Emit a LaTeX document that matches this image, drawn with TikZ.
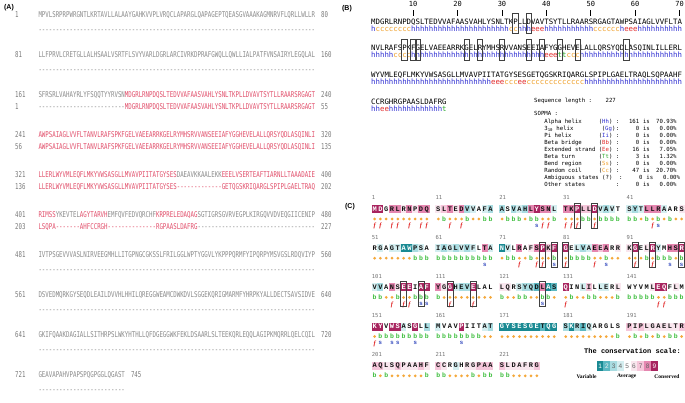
\documentclass[tikz,border=0pt]{standalone}
\usepackage{fontspec}
\newfontfamily\monof{DejaVu Sans Mono}
\newfontfamily\monoA[FakeStretch=0.718]{DejaVu Sans Mono}
\newfontfamily\resf{Liberation Mono}
\newfontfamily\labf{Liberation Sans}
\newfontfamily\serf{Liberation Serif}
\definecolor{agray}{HTML}{8C8C8C}
\definecolor{anumc}{HTML}{7A7A7A}
\definecolor{ared}{HTML}{E2506C}
\definecolor{ssh}{HTML}{2E2ED2}
\definecolor{ssc}{HTML}{F0A02A}
\definecolor{sse}{HTML}{E22A2A}
\definecolor{sst}{HTML}{2AA82A}
\definecolor{cs1}{HTML}{1A8A93}
\definecolor{cs2}{HTML}{5DB8C2}
\definecolor{cs3}{HTML}{A9DCE1}
\definecolor{cs4}{HTML}{D4EEF0}
\definecolor{cs5}{HTML}{FFFFFF}
\definecolor{cs6}{HTML}{F9E6EE}
\definecolor{cs7}{HTML}{F5C6DA}
\definecolor{cs8}{HTML}{E587B0}
\definecolor{cs9}{HTML}{A8245F}
\definecolor{ct1}{HTML}{FFFFFF}
\definecolor{ct2}{HTML}{111111}
\definecolor{ct3}{HTML}{111111}
\definecolor{ct4}{HTML}{111111}
\definecolor{ct5}{HTML}{111111}
\definecolor{ct6}{HTML}{111111}
\definecolor{ct7}{HTML}{111111}
\definecolor{ct8}{HTML}{111111}
\definecolor{ct9}{HTML}{FFFFFF}
\definecolor{sct1}{HTML}{FFFFFF}
\definecolor{sct2}{HTML}{F0F0F0}
\definecolor{sct3}{HTML}{666666}
\definecolor{sct4}{HTML}{666666}
\definecolor{sct5}{HTML}{666666}
\definecolor{sct6}{HTML}{666666}
\definecolor{sct7}{HTML}{666666}
\definecolor{sct8}{HTML}{666666}
\definecolor{sct9}{HTML}{FFFFFF}
\definecolor{dotor}{HTML}{F5A83A}
\definecolor{bgreen}{HTML}{3DBE3D}
\definecolor{fred}{HTML}{E02020}
\definecolor{sblue}{HTML}{3A4FC0}
\ExplSyntaxOn
\NewDocumentCommand\rp{mm}{\prg_replicate:nn{#1}{#2}}
\str_const:Nn \c_rs_seq_str {
MDGRLRNPDQ SLTEDVVAFA ASVAHLYSNL TKPLLDVAVT SYTLLRAARS
RGAGTAWPSA IAGLVVFLTA NVLRAFSPKF GELVAEEARR KGELRYMHSR
VVANSEEIAF YGGHEVELAL LQRSYQDLAS QINLILLERL WYVMLEQFLM
KYVWSASGLL MVAVPIITAT GYSESGETQG SKRIQARGLS PIPLGAELTR
AQLSQPAAHF CCRGHRGPAA SLDAFRG}
\str_const:Nn \c_rs_sc_str {
9958868688 6786834543 3534389884 8897794345 4348884556
5454411345 4343434584 1458568979 9543487856 6956945889
4358699599 8694339555 6654332812 9554754456 5555699565
9959945953 4555955543 1111111211 3132455555 7676666667
7766766676 7654566777 7666667}
\str_const:Nn \c_rs_dot_str {
eeeeeeeeee ebeeebeebb ebbbebbeeb eeebbebbbb bbebebebee
eeeeeeebbb bbbbbbbbbb ebbeebeeeb ebbbbeebee eeebebbbeb
bbeebeebbb beeeeeeeee beebbeebbe ebeebbeeeb bbbbbeebbb
ebbbbbbbbb bbbbbbbbee eeeeeeeeee eeeeeeeeeb ebebebebbe
bebeeeeeeb bbeeeebebb bbeeeee}
\str_const:Nn \c_rs_fs_str {
ff-ff-f-ff --f-f----- ------sff- fff--f---- ----fs----
---------- --------s- ---f--ff-s f----f-s-- -f--f--s-s
---f-ff-ss --f---f--- -------s-- f--------- -----ff---
fs-ss--s-- ----s-----}
\cs_new:Npn \rsgetA #1 {\str_item:Nn \c_rs_seq_str {#1}}
\cs_new:Npn \rsgetS #1 {\str_item:Nn \c_rs_sc_str {#1}}
\cs_new:Npn \rsgetD #1 {\str_item:Nn \c_rs_dot_str {#1}}
\cs_new:Npn \rsgetF #1 {\str_item:Nn \c_rs_fs_str {#1}}
\ExplSyntaxOff
\newcommand\crd[1]{\textcolor{ared}{#1}}
\newcommand\ssH[1]{\textcolor{ssh}{\rp{#1}{h}}}
\newcommand\ssC[1]{\textcolor{ssc}{\rp{#1}{c}}}
\newcommand\ssE[1]{\textcolor{sse}{\rp{#1}{e}}}
\newcommand\ssT[1]{\textcolor{sst}{\rp{#1}{t}}}
\newcommand\dsh[1]{\rp{#1}{-{}}}
\newcommand\stline[6]{%
  \node[st] (stn#1) at (544.2,#2) {#3};
  \node[st] (stc#1) at (598.6,#2) {#4};
  \node[st] (stk#1) at (615.6,#2) {:};
  \node[ster] (stv#1) at (639.4,#2) {#5};
  \node[st] (sti#1) at (642.8,#2) {is};
  \node[ster] (stp#1) at (676.8,#2) {#6};
}
\tikzset{
  aseq/.style={anchor=base west, inner sep=0pt, text=agray, font=\monoA\fontsize{8}{9}\selectfont},
  anum/.style={aseq, text=anumc},
  bseq/.style={anchor=base west, inner sep=0pt, font=\monof\fontsize{7.375}{8}\selectfont},
  bnum/.style={anchor=base, inner sep=0pt, font=\monof\fontsize{7}{8}\selectfont},
  st/.style={anchor=base west, inner sep=0pt, font=\monof\fontsize{5.65}{6}\selectfont},
  ster/.style={st, anchor=base east},
  hlb/.style={draw=black!75, line width=0.45pt, inner sep=0pt, minimum width=5.4pt, minimum height=20.5pt},
  hlc/.style={draw=black!75, line width=0.45pt, inner sep=0pt, minimum width=6pt, minimum height=25pt},
  resbox/.style={inner sep=0pt, minimum width=5.85pt, minimum height=8pt, text height=4.1pt, text depth=0pt, font=\resf\bfseries\fontsize{7}{8}\selectfont},
  edot/.style={circle, fill=dotor, inner sep=0pt, minimum size=3pt},
  bmark/.style={inner sep=0pt, text=bgreen, text height=4.3pt, text depth=0pt, font=\resf\bfseries\fontsize{6.5}{7}\selectfont},
  fmark/.style={inner sep=0pt, text=fred, text height=4.5pt, text depth=0pt, font=\serf\bfseries\itshape\fontsize{6.5}{7}\selectfont},
  smark/.style={inner sep=0pt, text=sblue, text height=3.2pt, text depth=0pt, font=\labf\bfseries\fontsize{6}{7}\selectfont},
  clab/.style={anchor=base west, inner sep=0pt, text=black!55, font=\monof\fontsize{5.5}{6}\selectfont},
  plab/.style={inner sep=0pt, font=\labf\bfseries\fontsize{7}{8}\selectfont},
  sclbox/.style={inner sep=0pt, minimum width=6.78pt, minimum height=9.7pt, font=\labf\fontsize{6.5}{7}\selectfont},
  scllab/.style={inner sep=0pt, font=\serf\bfseries\fontsize{5.5}{6}\selectfont},
}
\begin{document}
\begin{tikzpicture}[x=1pt,y=-1pt]
\useasboundingbox (0,0) rectangle (685,403);
\fill[white] (0,0) rectangle (685,403);
% ---------------- Panel A ----------------
\node[plab] (labA) at (9,8) {(A)};
% row 0
\node[anum] (an0) at (15,17.9) {1};
\node[aseq] (as0) at (38.3,17.9) {MPVLSRPRPWRGNTLKRTAVLLALAAYGAHKVVPLVRQCLAPARGLQAPAGEPTQEASGVAAAKAGMNRVFLQRLLWLLR};
\node[anum] (ae0) at (321,17.9) {80};
\node[aseq] (ad0) at (38.3,32.4) {\dsh{80}};
% row 1
\node[anum] (an1) at (15,57.9) {81};
\node[aseq] (as1) at (38.3,57.9) {LLFPRVLCRETGLLALHSAALVSRTFLSVYVARLDGRLARCIVRKDPRAFGWQLLQWLLIALPATFVNSAIRYLEGQLAL};
\node[anum] (ae1) at (321,57.9) {160};
\node[aseq] (ad1) at (38.3,72.4) {\dsh{80}};
% row 2
\node[anum] (an2) at (15,97.9) {161};
\node[aseq] (as2) at (38.3,97.9) {SFRSRLVAHAYRLYFSQQTYYRVSN\crd{MDGRLRNPDQSLTEDVVAFAASVAHLYSNLTKPLLDVAVTSYTLLRAARSRGAGT}};
\node[anum] (ae2) at (321,97.9) {240};
\node[anum] (bn2) at (15,109.9) {1};
\node[aseq] (bs2) at (38.3,109.9) {\dsh{25}\crd{MDGRLRNPDQSLTEDVVAFAASVAHLYSNLTKPLLDVAVTSYTLLRAARSRGAGT}};
\node[anum] (be2) at (321,109.9) {55};
% row 3
\node[anum] (an3) at (15,137.9) {241};
\node[aseq] (as3) at (38.3,137.9) {\crd{AWPSAIAGLVVFLTANVLRAFSPKFGELVAEEARRKGELRYMHSRVVANSEEIAFYGGHEVELALLQRSYQDLASQINLI}};
\node[anum] (ae3) at (321,137.9) {320};
\node[anum] (bn3) at (15,149.9) {56};
\node[aseq] (bs3) at (38.3,149.9) {\crd{AWPSAIAGLVVFLTANVLRAFSPKFGELVAEEARRKGELRYMHSRVVANSEEIAFYGGHEVELALLQRSYQDLASQINLI}};
\node[anum] (be3) at (321,149.9) {135};
% row 4
\node[anum] (an4) at (15,177.9) {321};
\node[aseq] (as4) at (38.3,177.9) {\crd{LLERLWYVMLEQFLMKYVWSASGLLMVAVPIITATGYSES}DAEAVKKAALEKK\crd{EEELVSERTEAFTIARNLLTAAADAIE}};
\node[anum] (ae4) at (321,177.9) {400};
\node[anum] (bn4) at (15,189.9) {136};
\node[aseq] (bs4) at (38.3,189.9) {\crd{LLERLWYVMLEQFLMKYVWSASGLLMVAVPIITATGYSES\dsh{13}GETQGSKRIQARGLSPIPLGAELTRAQ}};
\node[anum] (be4) at (321,189.9) {202};
% row 5
\node[anum] (an5) at (15,217.9) {401};
\node[aseq] (as5) at (38.3,217.9) {\crd{RIMSS}YKEVTEL\crd{AGYTARVH}EMFQVFEDVQRCHF\crd{KRPRELEDAQAG}SGTIGRSGVRVEGPLKIRGQVVDVEQGIICENIP};
\node[anum] (ae5) at (321,217.9) {480};
\node[anum] (bn5) at (15,229.9) {203};
\node[aseq] (bs5) at (38.3,229.9) {\crd{LSQPA\dsh{7}AHFCCRGH\dsh{14}RGPAASLDAFRG}\dsh{34}};
\node[anum] (be5) at (321,229.9) {227};
% row 6
\node[anum] (an6) at (15,257.9) {481};
\node[aseq] (as6) at (38.3,257.9) {IVTPSGEVVVASLNIRVEEGMHLLITGPNGCGKSSLFRILGGLWPTYGGVLYKPPPQRMFYIPQRPYMSVGSLRDQVIYP};
\node[anum] (ae6) at (321,257.9) {560};
\node[aseq] (ad6) at (38.3,272.4) {\dsh{80}};
% row 7
\node[anum] (an7) at (15,297.9) {561};
\node[aseq] (as7) at (38.3,297.9) {DSVEDMQRKGYSEQDLEAILDVVHLHHILQREGGWEAMCDWKDVLSGGEKQRIGMARMFYHRPKYALLDECTSAVSIDVE};
\node[anum] (ae7) at (321,297.9) {640};
\node[aseq] (ad7) at (38.3,312.4) {\dsh{80}};
% row 8
\node[anum] (an8) at (15,337.9) {641};
\node[aseq] (as8) at (38.3,337.9) {GKIFQAAKDAGIALLSITHRPSLWKYHTHLLQFDGEGGWKFEKLDSAARLSLTEEKQRLEQQLAGIPKMQRRLQELCQIL};
\node[anum] (ae8) at (321,337.9) {720};
\node[aseq] (ad8) at (38.3,352.4) {\dsh{80}};
% row 9
\node[anum] (an9) at (15,377.9) {721};
\node[aseq] (as9) at (38.3,377.9) {GEAVAPAHVPAPSPQGPGGLQGAST};
\node[anum] (ae9) at (130.8,377.9) {745};
\node[aseq] (ad9) at (38.3,392.4) {\dsh{25}};
% ---------------- Panel B ----------------
\node[plab] (labB) at (347,9) {(B)};
\foreach \k in {1,...,7}{
  \pgfmathsetmacro\tx{371+(10*\k-0.5)*4.44}
  \pgfmathtruncatemacro\tn{10*\k}
  \node[bnum] (rn\k) at (\tx,6.5) {\tn};
  \draw[line width=0.6pt] (\tx,10.5) -- (\tx,16);
}
\node[bseq] (bq1) at (371,24.4) {MDGRLRNPDQSLTEDVVAFAASVAHLYSNLTKPLLDVAVTSYTLLRAARSRGAGTAWPSAIAGLVVFLTA};
\node[bseq] (bt1) at (371,31.3) {\ssH{1}\ssC{8}\ssH{22}\ssC{2}\ssH{3}\ssE{3}\ssH{11}\ssC{6}\ssH{1}\ssE{3}\ssH{10}};
\node[bseq] (bq2) at (371,51.0) {NVLRAFSPKFGELVAEEARRKGELRYMHSRVVANSEEIAFYGGHEVELALLQRSYQDLASQINLILLERL};
\node[bseq] (bt2) at (371,57.9) {\ssH{5}\ssC{4}\ssH{30}\ssE{3}\ssT{2}\ssC{3}\ssH{23}};
\node[bseq] (bq3) at (371,77.6) {WYVMLEQFLMKYVWSASGLLMVAVPIITATGYSESGETQGSKRIQARGLSPIPLGAELTRAQLSQPAAHF};
\node[bseq] (bt3) at (371,84.5) {\ssH{27}\ssE{3}\ssC{3}\ssE{2}\ssC{13}\ssH{22}};
\node[bseq] (bq4) at (371,104.2) {CCRGHRGPAASLDAFRG};
\node[bseq] (bt4) at (371,111.1) {\ssH{2}\ssE{2}\ssH{12}\ssT{1}};
\foreach \p/\l in {33/0,36/0,78/1,80/1,81/1,92/1,95/1,100/1,106/1,109/1,113/1,117/1,128/1}{
  \pgfmathsetmacro\bx{371+(\p-70*\l-0.5)*4.44}
  \pgfmathsetmacro\by{21.7+26.6*\l+1.5}
  \node[hlb] (hb\p) at (\bx,\by) {};
}
% statistics
\node[st] (sqlen) at (534,103) {Sequence length :};
\node[st] (sqval) at (605.4,103) {227};
\node[st] (sopma) at (534,115.3) {SOPMA :};
\stline{0}{123.75}{Alpha helix}{(\textcolor{ssh}{Hh})}{161}{70.93\%}
\stline{1}{130.7}{3\textsubscript{10} helix}{\hspace{3pt}(\textcolor{ssh}{Gg})}{0}{0.00\%}
\stline{2}{137.65}{Pi helix}{(\textcolor{ssh}{Ii})}{0}{0.00\%}
\stline{3}{144.6}{Beta bridge}{(\textcolor{sse}{Bb})}{0}{0.00\%}
\stline{4}{151.55}{Extended strand}{(\textcolor{sse}{Ee})}{16}{7.05\%}
\stline{5}{158.5}{Beta turn}{(\textcolor{sst}{Tt})}{3}{1.32\%}
\stline{6}{165.45}{Bend region}{(\textcolor{ssc}{Ss})}{0}{0.00\%}
\stline{7}{172.4}{Random coil}{(\textcolor{ssc}{Cc})}{47}{20.70\%}
\node[st] (stn8) at (544.2,179.35) {Ambiguous states (?)};
\node[st] (stk8) at (619,179.35) {:};
\node[ster] (stv8) at (642.8,179.35) {0};
\node[st] (sti8) at (646.2,179.35) {is};
\node[ster] (stp8) at (680.2,179.35) {0.00\%};
\node[st] (stn9) at (544.2,186.3) {Other states};
\node[st] (stk9) at (615.6,186.3) {:};
\node[ster] (stv9) at (639.4,186.3) {0};
\node[st] (sti9) at (642.8,186.3) {is};
\node[ster] (stp9) at (676.8,186.3) {0.00\%};
% ---------------- Panel C ----------------
\node[plab] (labC) at (350,207) {(C)};
\foreach \i in {1,...,227}{
  \pgfmathtruncatemacro\rw{(\i-1)/50}
  \pgfmathtruncatemacro\bk{(\i-1-50*\rw)/10}
  \pgfmathtruncatemacro\ps{\i-1-50*\rw-10*\bk}
  \pgfmathsetmacro\xb{371.7+63.7*\bk}
  \pgfmathsetmacro\xx{\xb+5.8*(\ps+0.5)}
  \pgfmathsetmacro\yy{198+39.2*\rw}
  \edef\rsA{\rsgetA{\i}}
  \edef\rsS{\rsgetS{\i}}
  \edef\rsD{\rsgetD{\i}}
  \edef\rsF{\rsgetF{\i}}
  \ifx\rsS\empty\def\rsS{5}\fi
  \node[resbox, fill=cs\rsS, text=ct\rsS] (r\i) at (\xx,\yy+11) {\rsA};
  \if e\rsD
    \node[edot] (d\i) at (\xx,\yy+21) {};
  \else
    \node[bmark] (d\i) at (\xx,\yy+21) {b};
  \fi
  \if f\rsF \node[fmark] (f\i) at (\xx,\yy+27.5) {f};\fi
  \if s\rsF \node[smark] (f\i) at (\xx,\yy+27.5) {s};\fi
  \ifnum\ps=0 \node[clab] (n\i) at (\xb,\yy+2) {\i};\fi
}
\foreach \p in {33,36,78,80,81,92,95,100,106,109,113,117,128}{
  \node[hlc] (hc\p) at ([yshift=-6.5pt]r\p.center) {};
}
% conservation scale
\node[inner sep=0pt, font=\resf\bfseries\fontsize{7}{8}\selectfont] (cst) at (632.5,351) {The conservation scale:};
\foreach \k in {1,...,9}{
  \node[sclbox, fill=cs\k, text=sct\k] (sc\k) at (596.7+6.78*\k-3.39,366) {\k};
}
\node[scllab] (lvar) at (586.5,376.5) {Variable};
\node[scllab] (lavg) at (626.7,376.5) {Average};
\node[scllab] (lcon) at (667,376.5) {Conserved};
\end{tikzpicture}
\end{document}
